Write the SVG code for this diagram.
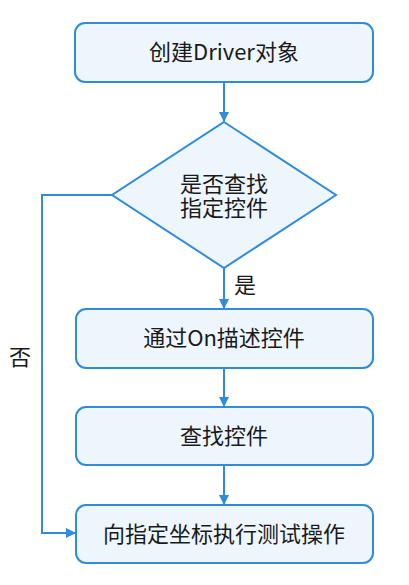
<svg xmlns="http://www.w3.org/2000/svg" width="409" height="585" viewBox="0 0 409 585">
<defs>
<style>
.box{fill:#EEF6FD;stroke:#2F8BDC;stroke-width:2}
.t{font-family:"Noto Sans CJK SC","Noto Sans",sans-serif;font-size:22px;fill:#1a1a1a;text-anchor:middle}
.c{fill:none;stroke:#2F8BDC;stroke-width:2}
</style>
<marker id="ah" markerWidth="10" markerHeight="10" refX="9" refY="5" orient="auto" markerUnits="userSpaceOnUse">
<path d="M0,0 L10,5 L0,10 z" fill="#2F8BDC"/>
</marker>
</defs>
<rect width="409" height="585" fill="#ffffff"/>
<g id="connectors">
<line class="c" x1="224" y1="82" x2="224" y2="121" marker-end="url(#ah)"/>
<line class="c" x1="224" y1="268" x2="224" y2="308" marker-end="url(#ah)"/>
<line class="c" x1="224" y1="368" x2="224" y2="406" marker-end="url(#ah)"/>
<line class="c" x1="224" y1="465" x2="224" y2="504" marker-end="url(#ah)"/>
<polyline class="c" points="112,195 42,195 42,533 75,533" marker-end="url(#ah)"/>
<text class="t" x="245" y="293">是</text>
<text class="t" x="20" y="365">否</text>
</g>
<g id="n1"><rect class="box" x="75" y="23" width="298" height="59" rx="10"/><text class="t" x="224" y="60">创建Driver对象</text></g>
<g id="n2"><polygon class="box" points="224,122 336,195 224,268 112,195"/><text class="t" x="224" y="192">是否查找<tspan x="224" dy="24">指定控件</tspan></text></g>
<g id="n3"><rect class="box" x="76" y="309" width="297" height="59" rx="10"/><text class="t" x="224" y="346">通过On描述控件</text></g>
<g id="n4"><rect class="box" x="76" y="407" width="297" height="58" rx="10"/><text class="t" x="224" y="444">查找控件</text></g>
<g id="n5"><rect class="box" x="76" y="505" width="297" height="58" rx="10"/><text class="t" x="224" y="542">向指定坐标执行测试操作</text></g>
</svg>
